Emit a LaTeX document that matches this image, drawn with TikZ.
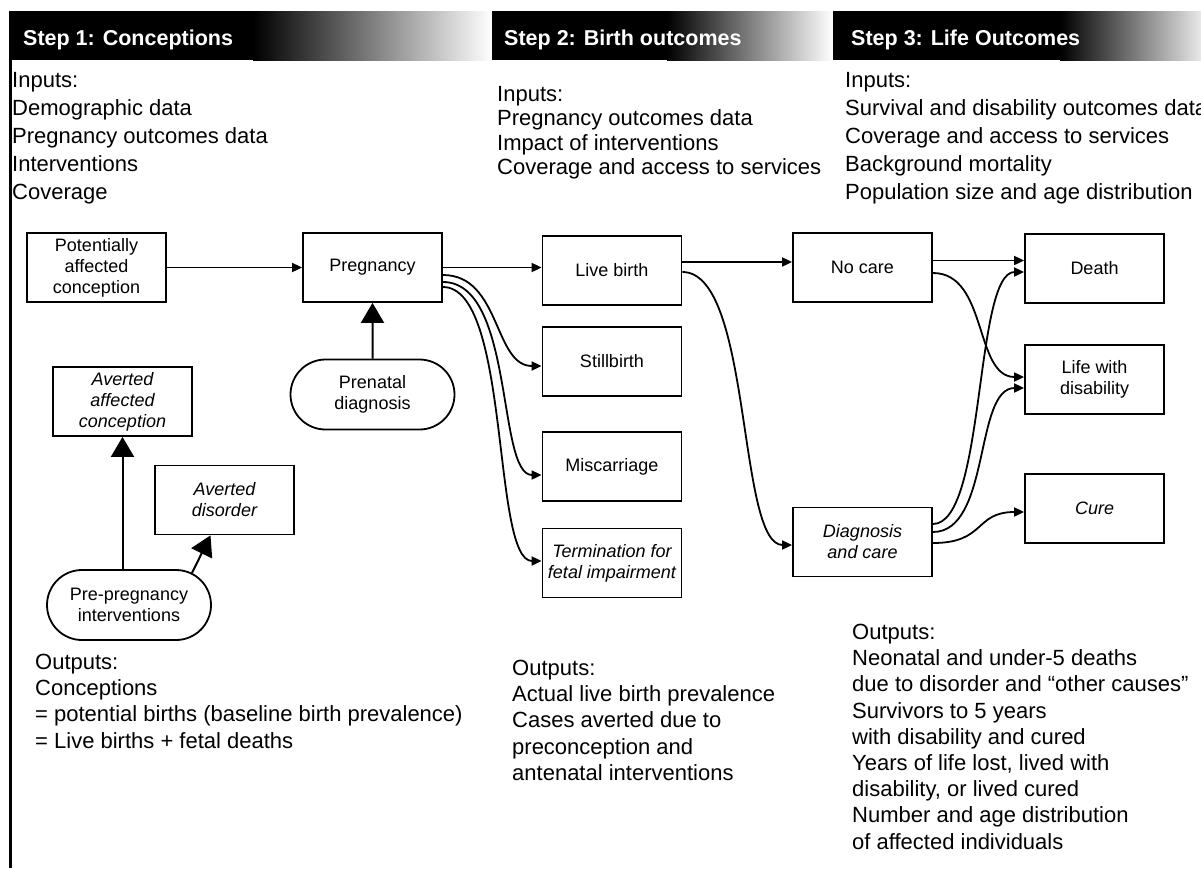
\documentclass[tikz,border=0pt]{standalone}
\usepackage{fontspec}
\setmainfont{Liberation Sans}
\usetikzlibrary{arrows.meta,shapes.misc,calc}
\begin{document}
\begin{tikzpicture}[x=1pt,y=-1pt,
  box/.style={draw,line width=1.8pt,minimum width=139pt,minimum height=69pt,inner sep=2pt,align=center,font=\fontsize{18}{21}\selectfont},
  pill/.style={draw,line width=1.8pt,rounded rectangle,minimum width=168pt,minimum height=70pt,inner sep=2pt,align=center,font=\fontsize{18}{21}\selectfont},
  txt/.style={anchor=north west,inner sep=0pt,align=left,font=\fontsize{22}{28}\selectfont},
  otxt/.style={anchor=north west,inner sep=0pt,align=left,font=\fontsize{22}{26.2}\selectfont},
  hdr/.style={anchor=west,inner sep=0pt,text=white,font=\fontsize{21.5}{24}\selectfont\bfseries},
  flow/.style={line width=1.8pt,-{Triangle[length=10pt,width=9pt]}},
  big/.style={line width=2pt,-{Triangle[length=20pt,width=23pt]}},
]
\useasboundingbox (0,0) rectangle (1201,868);
% header bar
\fill[black] (9,11) rectangle (253,60);
\shade[left color=black,right color=white] (253,11) rectangle (492,60);
\fill[black] (492,11) rectangle (667,60);
\shade[left color=black,right color=white] (667,11) rectangle (833,60);
\fill[black] (833,11) rectangle (1060,60);
\shade[left color=black,right color=white] (1060,11) rectangle (1215,60);
\node[hdr] (h1) at (23,40) {Step 1: Conceptions};
\node[hdr] (h2) at (504,40) {Step 2: Birth outcomes};
\node[hdr] (h3) at (851,40) {Step 3: Life Outcomes};
% left frame line
\draw[line width=3pt] (10,11) -- (10,868);
% input texts
\node[txt] (in1) at (12,72) {Inputs:\\Demographic data\\Pregnancy outcomes data\\Interventions\\Coverage};
\node[txt,font=\fontsize{22}{24.5}\selectfont] (in2) at (497,86) {Inputs:\\Pregnancy outcomes data\\Impact of interventions\\Coverage and access to services};
\node[txt] (in3) at (845,72) {Inputs:\\Survival and disability outcomes data\\Coverage and access to services\\Background mortality\\Population size and age distribution};
% output texts
\node[otxt] (out1) at (35,654) {Outputs:\\Conceptions\\= potential births (baseline birth prevalence)\\= Live births + fetal deaths};
\node[otxt] (out2) at (512,660) {Outputs:\\Actual live birth prevalence\\Cases averted due to\\preconception and\\antenatal interventions};
\node[otxt] (out3) at (852,624) {Outputs:\\Neonatal and under-5 deaths\\due to disorder and \textquotedblleft other causes\textquotedblright\\Survivors to 5 years\\with disability and cured\\Years of life lost, lived with\\disability, or lived cured\\Number and age distribution\\of affected individuals};
% step 1 nodes
\node[box] (pot) at (96.5,267.5) {Potentially\\affected\\conception};
\node[box] (preg) at (372.5,267.5) {Pregnancy};
\node[pill] (prenatal) at (372.5,394.5) {Prenatal\\diagnosis};
\node[box,font=\fontsize{18}{21}\selectfont\itshape] (avac) at (122.5,401.5) {Averted\\affected\\conception};
\node[box,font=\fontsize{18}{21}\selectfont\itshape] (avdis) at (224.5,500) {Averted\\disorder};
\node[pill] (prepreg) at (129,605) {Pre-pregnancy\\interventions};
% step 2 nodes
\node[box] (live) at (612,270.5) {Live birth};
\node[box] (still) at (612,361.5) {Stillbirth};
\node[box] (misc) at (612,466.5) {Miscarriage};
\node[box,font=\fontsize{18}{21}\selectfont\itshape] (term) at (612,563) {Termination for\\fetal impairment};
% step 3 nodes
\node[box] (nocare) at (862.5,267.5) {No care};
\node[box,font=\fontsize{18}{21}\selectfont\itshape] (diag) at (862.5,542) {Diagnosis\\and care};
\node[box] (death) at (1094.5,268.5) {Death};
\node[box] (life) at (1094.5,379.5) {Life with\\disability};
\node[box,font=\fontsize{18}{21}\selectfont\itshape] (cure) at (1094.5,508.5) {Cure};
% connectors step 1
\draw[flow] (pot) -- (preg);
\draw[big] (prenatal) -- (preg);
\draw[big] (avac.south |- prepreg.north) -- (avac.south);
\draw[big] (prepreg.27) -- ($(avdis.south)+(-14,0)$);
% connectors step 2
\draw[flow] (preg.east) -- (preg.east -| live.west);
\draw[flow] ($(preg.east)+(0,7.5)$) .. controls +(58,0) and +(-48,0) .. ($(still.west)+(0,4.5)$);
\draw[flow] ($(preg.east)+(0,14.5)$) .. controls +(72,0) and +(-45,0) .. ($(misc.west)+(0,8.5)$);
\draw[flow] ($(preg.east)+(0,19.5)$) .. controls +(68,0) and +(-50,0) .. ($(term.west)+(0,-2)$);
\draw[flow] ($(live.east)+(0,-8.5)$) -- ($(nocare.west)+(0,-5.5)$);
\draw[flow] ($(live.east)+(0,1.5)$) .. controls +(70,0) and +(-55,0) .. ($(diag.west)+(0,3)$);
% connectors step 3
\draw[flow] ($(nocare.east)+(0,-7)$) -- ($(death.west)+(0,-8)$);
\draw[flow] ($(nocare.east)+(0,5.5)$) .. controls +(55,0) and +(-50,0) .. ($(life.west)+(0,-2.5)$);
\draw[flow] ($(diag.east)+(0,-18)$) .. controls +(53,0) and +(-50,0) .. ($(death.west)+(0,3.5)$);
\draw[flow] ($(diag.east)+(0,-10)$) .. controls +(58,0) and +(-50,0) .. ($(life.west)+(0,8.5)$);
\draw[flow] ($(diag.east)+(0,1)$) .. controls +(53,0) and +(-50,0) .. ($(cure.west)+(0,3.5)$);
\end{tikzpicture}
\end{document}
